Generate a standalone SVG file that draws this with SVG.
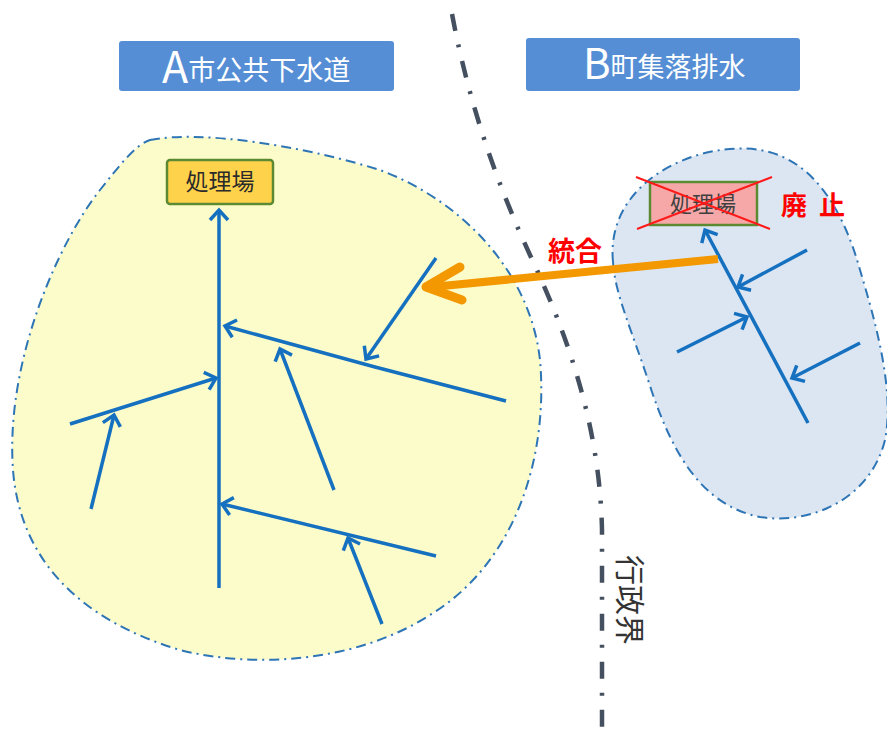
<svg xmlns="http://www.w3.org/2000/svg" width="887" height="729" viewBox="0 0 887 729">
<style>
.jp{font-family:"Noto Sans CJK JP","Noto Sans",sans-serif;}
.hdr{fill:#558ed5;}
.hdrtxt{fill:#ffffff;}
.area{stroke:#2e75b6;stroke-width:2;stroke-dasharray:10 5 2 5;}
.pipe{fill:none;stroke:#1570c0;stroke-width:3.5;stroke-linecap:butt;marker-end:url(#ah);}
.red{fill:#ff0000;font-weight:bold;}
</style>
<defs>
<marker id="ah" markerUnits="userSpaceOnUse" markerWidth="24" markerHeight="24" viewBox="-14 -12 24 24" refX="0" refY="0" orient="auto" overflow="visible">
<path d="M-10,-9 L0,0 L-10,9" fill="none" stroke="#1570c0" stroke-width="3.5"/>
</marker>
</defs>
<rect width="887" height="729" fill="#ffffff"/>

<g id="areaA">
<path class="area" fill="#fcfccb" d="M150,140 C200,130 300,145 380,170 C460,200 530,270 540,360 C548,450 520,560 430,615 C360,660 260,670 180,650 C80,620 20,560 13,470 C5,360 60,240 100,190 C120,165 135,145 150,140 Z"/>
</g>
<g id="areaB">
<path class="area" fill="#dce6f2" d="M613,262 C605,180 700,140 760,150 C810,158 842,205 860,270 C875,320 895,390 885,440 C870,500 810,525 760,517 C700,505 672,450 652,392 C632,330 615,295 613,262 Z"/>
</g>

<g id="boundary">
<path d="M452,14 C470,110 500,190 530,255 C570,340 600,430 602,530 L602,729" fill="none" stroke="#444f60" stroke-width="4.5" stroke-dasharray="17 14 3 14"/>
<text class="jp" transform="translate(619,555) rotate(90)" font-size="30" fill="#333333">行政界</text>
</g>

<g id="headerA">
<rect class="hdr" x="119" y="41" width="275" height="50" rx="3"/>
<text class="jp hdrtxt" x="162" y="83"><tspan font-size="43">A</tspan><tspan font-size="27" dy="-3">市公共下水道</tspan></text>
</g>
<g id="headerB">
<rect class="hdr" x="526" y="38" width="274" height="53" rx="3"/>
<text class="jp hdrtxt" x="583" y="79"><tspan font-size="42">B</tspan><tspan font-size="27" dy="-2">町集落排水</tspan></text>
</g>

<g id="plantA">
<rect x="167" y="160" width="106" height="44" rx="3" fill="#ffd24c" stroke="#5b8a32" stroke-width="2.5"/>
<text class="jp" x="220" y="190" font-size="23" text-anchor="middle" fill="#2a2a2a">処理場</text>
</g>

<g id="plantB">
<rect x="650" y="182" width="107" height="43" fill="#f6a8a8" stroke="#5b8a32" stroke-width="2.5"/>
<text class="jp" x="703" y="212" font-size="22" text-anchor="middle" fill="#404040">処理場</text>
<path d="M636,177 L770,229 M772,177 L637,229" stroke="#ff1a1a" stroke-width="2"/>
</g>

<g id="labels">
<text class="jp red" x="548" y="261" font-size="27">統合</text>
<text class="jp red" x="781" y="215" font-size="26" letter-spacing="3">廃 止</text>
</g>

<g id="connectors">
<path class="pipe" d="M219,588 L219,210"/>
<path class="pipe" d="M506,401 L375,367 L225,326"/>
<path class="pipe" d="M436,258 L366,359"/>
<path class="pipe" d="M334,490 L280,349"/>
<path class="pipe" d="M70,424 L216,378"/>
<path class="pipe" d="M91,509 L114,415"/>
<path class="pipe" d="M436,556 L222,504"/>
<path class="pipe" d="M382,624 L348,538"/>
<path class="pipe" d="M808,423 L705,230"/>
<path class="pipe" d="M807,250 L738,287"/>
<path class="pipe" d="M677,352 L747,317"/>
<path class="pipe" d="M860,343 L792,378"/>
<path d="M718,259 L432,287" fill="none" stroke="#f39800" stroke-width="8"/>
<path d="M460,267 L426,287 L462,300" fill="none" stroke="#f39800" stroke-width="9" stroke-linecap="round" stroke-linejoin="round"/>
</g>
</svg>
